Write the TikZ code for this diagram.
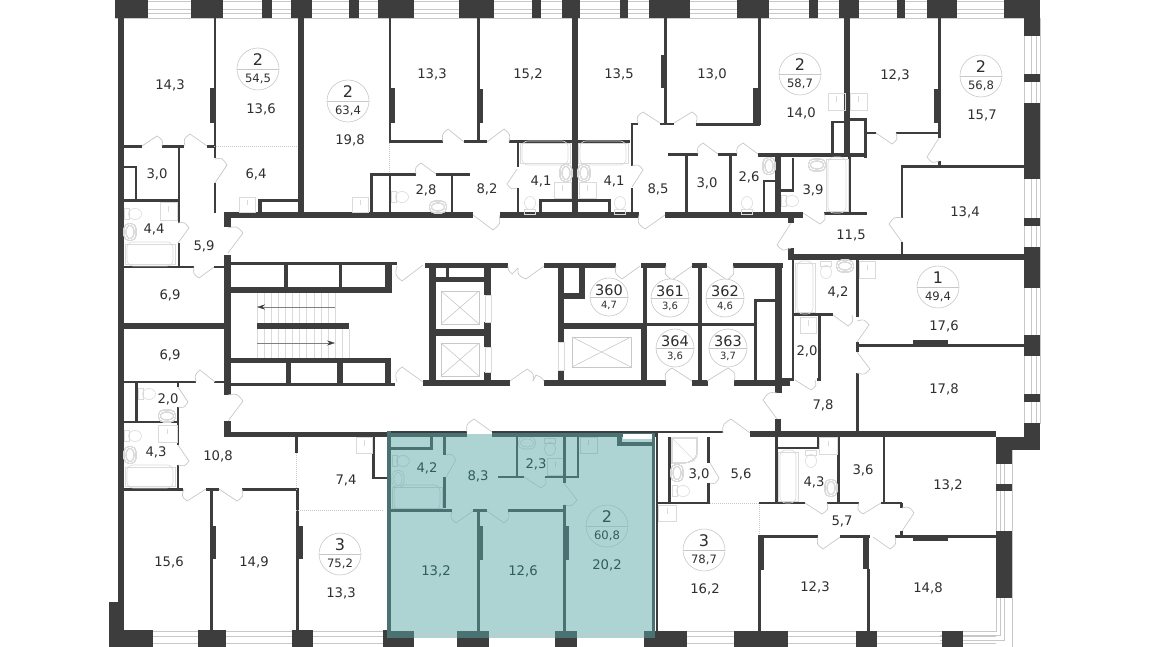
\documentclass[tikz,border=0pt]{standalone}
\usepackage{fontspec}
\setmainfont{DejaVu Sans}
\usetikzlibrary{calc,arrows.meta}
\definecolor{wallgray}{HTML}{3D3D3D}
\definecolor{linegray}{HTML}{C8C8C8}
\definecolor{fixgray}{HTML}{DADADA}
\definecolor{textgray}{HTML}{2E2E2E}
\definecolor{flatfill}{HTML}{AED3D3}
\definecolor{flatwall}{HTML}{4A7272}
\definecolor{flatline}{HTML}{98BEBE}
\definecolor{flattext}{HTML}{2F5D5D}
\tikzset{
    wallfill/.style={fill=wallgray},
    fixture/.style={draw=fixgray,line width=.6pt},
    doorline/.style={draw=linegray,line width=.7pt},
    winline/.style={draw=linegray,line width=.6pt},
    zoneline/.style={draw=linegray,line width=.6pt,dash pattern=on 1pt off 1pt},
    roomlabel/.style={inner sep=0pt,text=textgray,font=\fontsize{13.2}{15}\selectfont},
    badge/.style={circle,draw=linegray,line width=.6pt,inner sep=0pt,minimum size=42pt},
    badgesmall/.style={circle,draw=linegray,line width=.6pt,inner sep=0pt,minimum size=38pt},
    badgetop/.style={inner sep=0pt,text=textgray,font=\fontsize{16}{18}\selectfont},
    badgelow/.style={inner sep=0pt,text=textgray,font=\fontsize{11.6}{13}\selectfont},
    badgelowsmall/.style={inner sep=0pt,text=textgray,font=\fontsize{10}{12}\selectfont},
}
\newcommand{\walls}[1]{\foreach \xa/\ya/\xb/\yb in {#1} \fill[wallfill] (\xa,\ya) rectangle (\xb,\yb);}
\newcommand{\doors}[1]{\foreach \ax/\ay/\tx/\ty/\bx/\by in {#1}
    \draw[doorline] (\ax,\ay) -- (\tx,\ty) .. controls ($(\ax,\ay)!1.2!($(\tx,\ty)!.5!(\bx,\by)$)$) .. (\bx,\by);}
\newcommand{\toilet}[3]{\begin{scope}[shift={(#1,#2)},rotate=#3]
    \draw[fixture] (-9,-5.5) rectangle (-4,5.5);
    \draw[fixture] (2,0) ellipse (6.5 and 5.5);
    \end{scope}}
\newcommand{\basin}[3]{\begin{scope}[shift={(#1,#2)},rotate=#3]
    \draw[fixture,rounded corners=5pt] (-8.5,-6) rectangle (8.5,6);
    \draw[fixture] (0,0) ellipse (6.5 and 4);
    \end{scope}}
\newcommand{\tub}[4]{\draw[fixture] (#1,#2) rectangle (#3,#4);
    \draw[fixture,rounded corners=6pt] ($(#1,#2)+(2,-2)$) rectangle ($(#3,#4)+(-2,2)$);}
\newcommand{\boxes}[1]{\foreach \xa/\ya/\xb/\yb in {#1} {
    \draw[fixture] (\xa,\ya) rectangle (\xb,\yb);
    \draw[fixture] ($(\xa,\ya)!.5!(\xb,\yb)$) -- ++(0,-5);}}
\begin{document}
\begin{tikzpicture}[x=1pt,y=-1pt]
    \useasboundingbox (0,0) rectangle (1150,647);
    \fill[flatfill] (388,434) rectangle (655,638);
    \foreach \wy in {1,9,13,18} \draw[winline] (115,\wy) -- (1024,\wy);
    \foreach \wy in {631,636,643} {
        \draw[winline] (109,\wy) -- (388,\wy);
        \draw[winline] (655,\wy) -- (996,\wy);}
    \foreach \wx in {1024,1031,1036,1040} \draw[winline] (\wx,18) -- (\wx,424);
    \foreach \wx/\wy in {996/631,1000/635,1004/640,1012/647} \draw[winline] (\wx,450) -- (\wx,\wy) -- (940,\wy);
    \draw[winline] (414,634.5) -- (644,634.5);
    \walls{115/0/148/18,191/0/223/18,262/0/272/18,291/0/312/18,349/0/359/18,378/0/414/18,
        459/0/494/18,532/0/541/18,562/0/580/18,620/0/628/18,649/0/690/18,737/0/769/18,
        809/0/818/18,839/0/859/18,897/0/905/18,927/0/957/18,1004/0/1040/18,
        1024/0/1040/36,1024/74/1040/82,1024/103/1040/179,1024/218/1040/226,1024/247/1040/288,
        1024/335/1040/356,1024/394/1040/402,1024/423/1040/450,996/437/1024/450,
        996/437/1012/464,996/484/1012/491,996/531/1012/598,
        109/630/153/647,109/602/124/647,198/630/226/647,292/630/313/647,383/630/388/647,
        385/638/414/647,457/638/489/647,555/638/577/647,644/638/687/647,734/631/788/647,
        856/631/877/647,942/631/963/647,650/631/687/638}
    \walls{118/18/124/640,213.5/18/216/158,210/88/216/123,214/183/216/213,124/145/142/148,
        162/145/184/148,207/145/216/148,178/147/180/223,178/243/180/267,124/166/137/168,
        135/166/137/199,124/199/178/202,124/266/194/268,214/266/224/268,224/212/231/227,
        224/255/231/395,224/421/231/437,124/323/224/329,231/262/397/265,231/287/392/293,
        284/265/288/287,339/265/342/287,385/263/392/293,257/323/349/329,231/358/391/363,
        231/383/395/386,286/363/291/383,337/363/343/383,385/358/391/386,124/381/196/383,
        214/381/224/383,135/383/138/423,124/421/178/423,177/383/179/387,177/407/179/445,
        177/465/179/488,124/488/183/491,206/488/219/491,242/488/299/491,210/488/213/630,
        210/526/216/559,296/488/299/630,296/526/303/559,295/437/298/453,372/437/375/478,
        372/477/387/479,224/432/388/437,388/431/467/433,492/431/723/433,652/433/658/437,
        656/437/658/631}
    \walls{298/18/304/213,258/199/262/213,258/199/298/202,389/18/391/142,389/88/395/123,
        389/140/443/143,464/140/487/143,509/140/630/143,370/173/416/176,436/173/470/176,
        370/173/373/213,389/173/391/213,451/175/453/213,477/18/480/142,477/89/483/123,
        572/18/578/213,517/142/519/167,517/188/519/213,631/123/633/166,631/188/633/213,
        631/123/638/125,660/123/674/125,696/123/760/126,664/18/667/123,661/55/667/88,
        668/153/698/156,718/153/737/156,685/155/688/213,729/155/732/213,539/199/610/202,
        539/199/542/213,608/199/611/213,225/212/473/218,500/212/639/218,665/212/803/218,
        758/18/761/125,753/88/761/125,844/18/850/157,758/153/867/157,775/155/781/213,
        792/158/794/192,781/189/794/192,763/181/765/213,763/180/775/182,831/121/834/155,
        831/121/845/123,850/118/867/121,864/118/867/158,867/132/876/134,896/132/940/134,
        938/18/941/138,934/89/940/123,938/161/941/166,901/165/1024/168,901/165/903/218,
        901/242/903/257,848/157/851/213,824/212/867/215,788/215/794/223,788/248/794/260,
        788/254/1024/260}
    \walls{425/263/508/268,544/263/616/268,641/263/666/268,692/263/707/268,733/263/783/268,
        423/380/510/386,544/380/666/386,692/380/708/386,734/380/790/386,429/263/436/383,
        484/268/491/295,484/322/491/347,484/372/491/380,436/277/484/282,446/265/449/277,
        436/329/484/336,558/268/564/342,558/370/564/383,579/268/585/298,564/293/585/299,
        564/323/647/329,647/323/755/326,641/329/647/383,643/265/647/323,698/268/702/380,
        754/300/757/382,754/299/778/302,775/268/782/393,775/419/781/432,792/260/794/378,
        792/313/833/316,818/316/821/378,781/378/794/381,817/378/821/381,856/260/859/317,
        856/342/859/352,856/373/859/432,859/344/1024/347,913/340/948/346,750/431/996/437}
    \walls{668/437/671/503,707/437/710/463,707/483/710/503,658/502/710/504,759/502/805/504,
        827/502/859/504,881/502/902/504,775/437/778/503,778/447/818/449,817/437/819/449,
        837/437/840/503,883/437/885/503,900/503/903/508,900/531/903/537,758/535/818/538,
        840/535/870/538,895/535/996/538,913/538/948/541,758/537/764/570,758/570/761/631,
        863/537/869/569,867/569/870/631}
    \foreach \zx/\zy/\zu/\zv in {214/146/298/146,296/453/296/490,296/510/384/510,
        389/143/389/173,710/503/759/503,759/505/759/535}
        \draw[zoneline] (\zx,\zy) -- (\zu,\zv);
    \doors{142/146/157/136/162/146,207/146/190/134/185/146,215/183/227/165/215/159,
        464/142/448/129/443/142,487/142/504/129/509/142,436/174/421/163/416/174,
        473/215/493/230/499/215,517/169/507/184/517/188,632/187/643/170/632/166,
        665/215/645/229/639/215,660/123/643/112/638/123,674/123/692/112/696/123,
        718/154/703/143/698/154,758/154/743/143/737/154,876/133/892/144/896/133,
        939/138/927/157/939/161,803/213/820/224/824/213,791/223/777/245/791/248,
        902/242/889/224/902/218,178/243/189/228/178/223,228/253/243/233/228/228,
        214/267/199/278/194/267,423/265/402/281/397/266,215/382/200/370/196/382,
        178/387/188/402/178/407,228/421/243/401/228/395,423/382/402/367/397/382,
        544/266/526/279/518/268,518/268/512/274/508/266,510/381/527/369/533/381,
        533/381/536/375/544/381,640/266/622/279/616/266,692/266/672/280/666/266,
        707/266/727/280/733/266,692/381/672/368/666/381,707/381/728/368/734/381,
        833/315/848/326/852/315,857/342/869/325/857/321,857/352/870/369/857/373,
        795/380/811/390/815/380,777/419/763/400/777/393,178/445/189/461/178/465,
        206/489/187/501/184/489,219/489/237/501/242/489,492/432/474/419/467/432,
        710/463/719/478/710/483,750/433/731/419/723/433,805/503/822/514/827/503,
        881/503/863/514/859/503,902/531/914/513/902/508,840/537/823/549/818/537,
        873/537/890/549/895/537}
    \foreach \sx in {257,264.1,...,335.5} \draw[fixture] (\sx,293) -- (\sx,323);
    \foreach \sx in {257,264.1,...,350} \draw[fixture] (\sx,329) -- (\sx,358);
    \draw[draw=gray,line width=.4pt,-{Stealth[length=8pt,width=5pt,color=wallgray]}] (335,307) -- (257,307);
    \draw[draw=gray,line width=.4pt,-{Stealth[length=8pt,width=5pt,color=wallgray]}] (257,343) -- (335,343);
    \foreach \xa/\ya/\xb/\yb in {441/291/479/324,441/343/479/376,572/337/631/367} {
        \draw[fixture,draw=linegray] (\xa,\ya) rectangle (\xb,\yb);
        \draw[fixture,draw=linegray] (\xa,\ya) -- (\xb,\yb) (\xa,\yb) -- (\xb,\ya);}
    \foreach \xa/\ya/\xb/\yb in {485/295/491/322,485/347/491/372,558/342/564/370}
        \draw[fixture] (\xa,\ya) rectangle (\xb,\yb);
    \tub{520}{143}{570}{163}
    \tub{578}{143}{628}{163}
    \tub{125}{244}{175}{264}
    \tub{125}{467}{175}{486}
    \tub{826}{159}{848}{211}
    \tub{795}{263}{815}{312}
    \tub{778}{452}{798}{501}
    \foreach \tx/\ty/\ta in {133/214/0,530/205/90,620/205/90,400/197/0,747/205/90,
        790/201/0,147/394/0,826/270/-90,133/436/0,681/491/0,811/459/-90}
        \toilet{\tx}{\ty}{\ta}
    \foreach \tx/\ty/\ta in {566/173/90,584/173/90,438/207/0,769/166/90,817/165/0,130/232/90,
        167/416/0,845/266/0,130/455/90,677/473/90,831/488/90}
        \basin{\tx}{\ty}{\ta}
    \boxes{239/197/255/212,352/197/368/212,160/202/177/220,554/182/571/198,579/182/596/198,
        828/93/845/110,850/93/867/110,859/261/875/278,800/317/816/333,158/425/177/442,
        356/437/372/453,658/505/676/521,819/437/837/454}
    \draw[fixture] (672,438) -- (697,438) -- (697,452) .. controls (697,460) and (690,463) .. (683,463) -- (672,463) -- cycle;
    \draw[fixture] (672,438) -- (695,461);
    \begin{scope}[fixture/.style={draw=flatline,line width=.6pt},doorline/.style={draw=flatline,line width=.7pt}]
        \tub{392}{487}{442}{508}
        \toilet{401}{461}{0}
        \toilet{550}{447}{-90}
        \basin{398}{479}{90}
        \basin{527}{443}{0}
        \boxes{547/458/563/475,580/437/597/453}
        \doors{446/477/456/460/446/455,473/511/456/523/452/511,487/511/504/523/508/511,
            524/477/541/488/545/477,564/483/577/500/564/505}
    \end{scope}
    \foreach \xa/\ya/\xb/\yb in {387/431/391/638,388/433/467/437,492/433/652/437,652/433/655/638,
        387/631/414/638,457/631/489/638,555/631/577/638,644/631/655/638,391/447/433/450,
        430/437/433/450,443/437/446/455,443/477/446/508,391/509/452/512,473/509/487/512,
        508/509/564/512,477/511/480/631,477/526/483/560,563/505/566/631,563/526/569/560,
        563/437/566/483,516/437/518/477,498/476/524/478,545/476/579/478,577/437/579/478,
        617/434/622/446,617/442/653/446}
        \fill[flatwall] (\xa,\ya) rectangle (\xb,\yb);
    \fill[white] (623,434) rectangle (652,439);
    \foreach \rx/\ry/\rt [count=\i] in {170/85/{14,3},261/109/{13,6},157/174/{3,0},256/174/{6,4},
        350/140/{19,8},432/74/{13,3},528/74/{15,2},619/74/{13,5},712/74/{13,0},801/113/{14,0},
        895/75/{12,3},982/115/{15,7},426/190/{2,8},487/189/{8,2},541/181/{4,1},614/181/{4,1},
        658/189/{8,5},707/183/{3,0},749/177/{2,6},813/190/{3,9},851/235/{11,5},965/212/{13,4},
        154/229/{4,4},204/246/{5,9},170/295/{6,9},170/355/{6,9},168/399/{2,0},838/292/{4,2},
        807/351/{2,0},823/405/{7,8},944/326/{17,6},944/389/{17,8},156/452/{4,3},218/456/{10,8},
        346/480/{7,4},169/562/{15,6},254/562/{14,9},341/593/{13,3},699/474/{3,0},741/474/{5,6},
        814/482/{4,3},863/470/{3,6},948/485/{13,2},842/521/{5,7},705/589/{16,2},815/587/{12,3},
        928/588/{14,8}}
        \node[roomlabel] (room\i) at (\rx,\ry) {\rt};
    \foreach \rx/\ry/\rt [count=\i] in {427/468/{4,2},478/476/{8,3},536/464/{2,3},436/571/{13,2},
        523/571/{12,6},607/565/{20,2}}
        \node[roomlabel,text=flattext] (flatroom\i) at (\rx,\ry) {\rt};
    \foreach \bx/\by/\bt/\bs [count=\i] in {258/69/2/{54,5},348/101/2/{63,4},800/74/2/{58,7},
        981/76/2/{56,8},938/287/1/{49,4},340/554/3/{75,2},704/550/3/{78,7}} {
        \node[badge] (flat\i) at (\bx,\by) {};
        \draw[draw=linegray,line width=.6pt] (flat\i.west) -- (flat\i.east);
        \node[badgetop] (flat\i top) at ($(flat\i)+(0,-9)$) {\bt};
        \node[badgelow] (flat\i low) at ($(flat\i)+(0,10)$) {\bs};}
    \foreach \bx/\by/\bt/\bs in {609/297/360/{4,7},670/298/361/{3,6},725/298/362/{4,6},
        675/348/364/{3,6},728/348/363/{3,7}} {
        \node[badgesmall,fill=white] (store\bt) at (\bx,\by) {};
        \draw[draw=linegray,line width=.6pt] (store\bt.west) -- (store\bt.east);
        \node[roomlabel,font=\fontsize{14.5}{16}\selectfont] (store\bt top) at ($(store\bt)+(0,-7)$) {\bt};
        \node[badgelowsmall] (store\bt low) at ($(store\bt)+(0,8)$) {\bs};}
    \node[badge,draw=flatline] (flat8) at (607,526) {};
    \draw[draw=flatline,line width=.6pt] (flat8.west) -- (flat8.east);
    \node[badgetop,text=flattext] (flat8top) at (607,517) {2};
    \node[badgelow,text=flattext] (flat8low) at (607,536) {60,8};
\end{tikzpicture}
\end{document}
